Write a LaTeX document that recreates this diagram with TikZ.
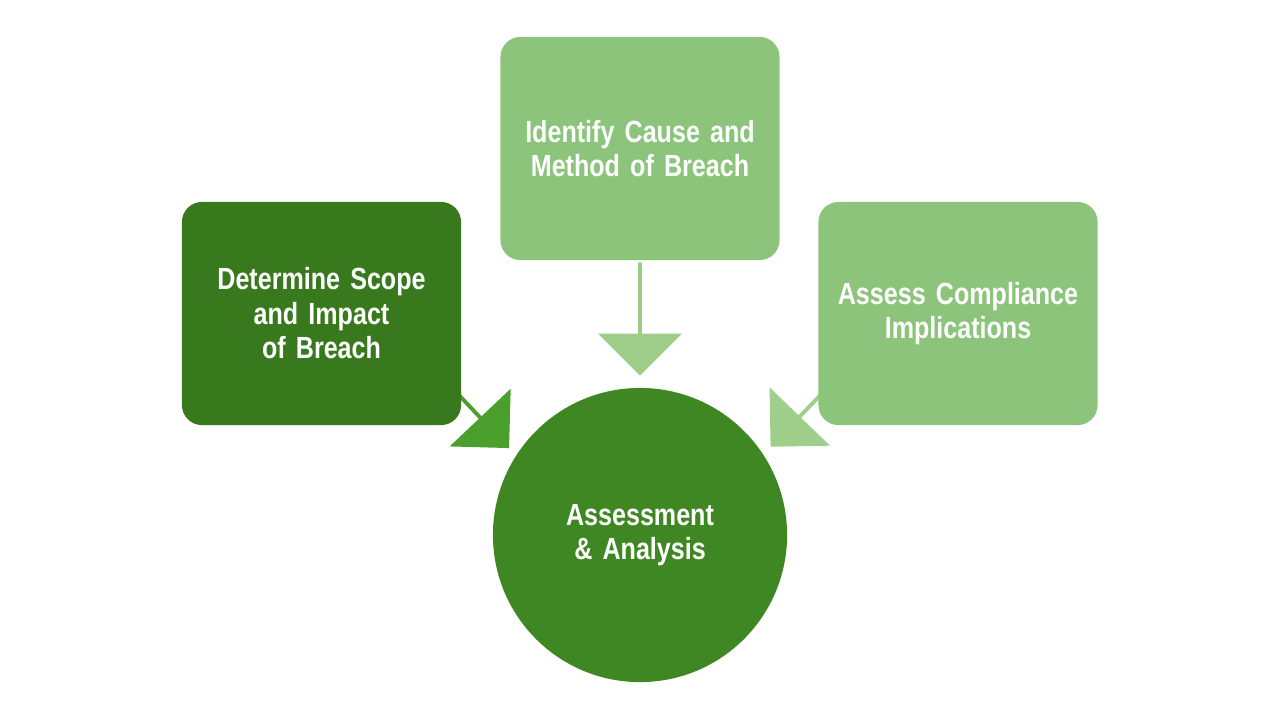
\documentclass[tikz,border=0pt]{standalone}
\usepackage{fontspec}
\newfontfamily\condfont{Liberation Sans}[FakeStretch=0.82]
\usetikzlibrary{shapes.arrows}
\definecolor{darkgr}{HTML}{38791E}
\definecolor{midgr}{HTML}{3F8722}
\definecolor{lightgr}{HTML}{8BC47A}
\definecolor{arrowgr}{HTML}{4BA02D}
\definecolor{paleagr}{HTML}{A0CF8C}
\begin{document}
\begin{tikzpicture}[x=0.01cm,y=-0.01cm,
    box/.style={rectangle, rounded corners=0.2cm, minimum width=2.79cm, minimum height=2.23cm,
                text width=2.5cm, align=center, text=white, font=\condfont\bfseries\fontsize{8.7}{9.8}\selectfont},
    blockarrow/.style={single arrow, draw=none, minimum width=0.84cm, single arrow head extend=0.145cm,
                inner sep=0pt}]
  \useasboundingbox (0,0) rectangle (1280,720);
  % arrows go first, so the boxes cover their tails
  \node[blockarrow, fill=paleagr!90!lightgr, minimum height=1.13cm, rotate=-90] (arrtop) at (640,318) {};
  \node[blockarrow, fill=arrowgr, minimum height=1.0cm, rotate=-46.6] (arrleft) at (474,411) {};
  \node[blockarrow, fill=paleagr, minimum height=1.0cm, rotate=-134] (arrright) at (806,410) {};
  \node[box, fill=darkgr] (scope) at (321.5,313.5) {Determine Scope and Impact of Breach};
  \node[box, fill=lightgr] (cause) at (640,148.5) {Identify Cause and Method of Breach};
  \node[box, fill=lightgr] (comply) at (958,313.5) {Assess Compliance Implications};
  \node[circle, fill=midgr, minimum size=2.94cm, text width=2.2cm, align=center, text=white,
        font=\condfont\bfseries\fontsize{8.7}{9.8}\selectfont] (assess) at (640,535) {Assessment \& Analysis};
\end{tikzpicture}
\end{document}
